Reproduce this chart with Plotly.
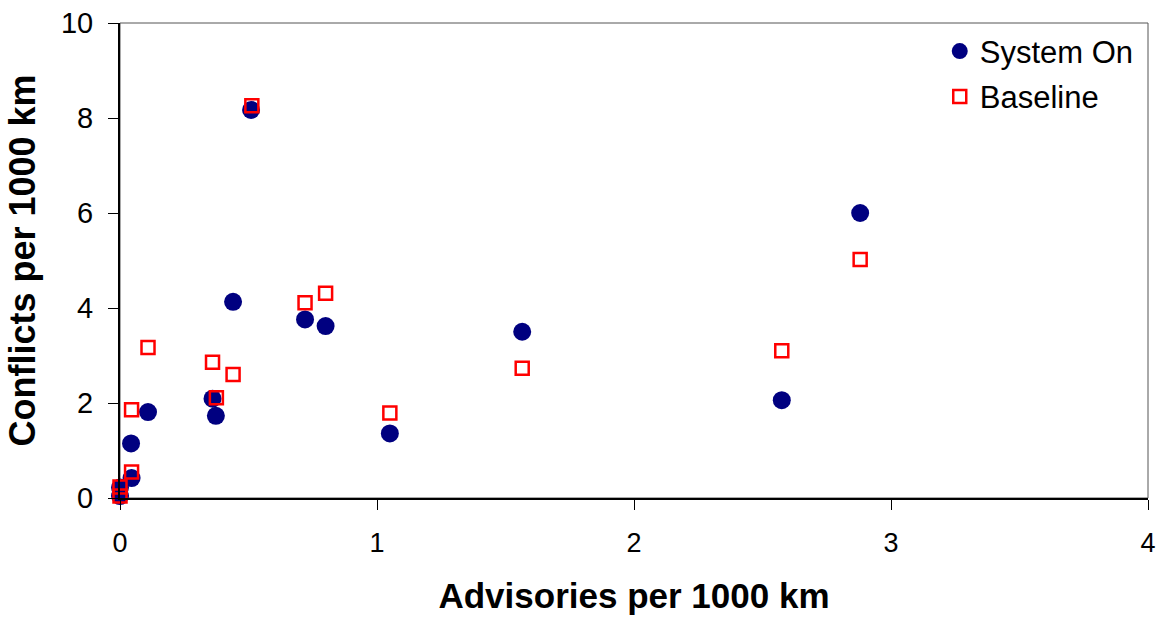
import plotly.graph_objects as go

# System On (navy filled circles)
sys_x = [0.51, 2.88, 0.44, 0.72, 0.80, 1.565, 2.575, 1.05, 0.36, 0.373, 0.109, 0.043, 0.045, 0.0, 0.0]
sys_y = [8.17, 6.00, 4.13, 3.76, 3.62, 3.50, 2.06, 1.36, 2.09, 1.73, 1.81, 1.15, 0.42, 0.22, 0.04]

# Baseline (red open squares)
base_x = [0.513, 2.88, 0.80, 0.72, 0.109, 0.36, 0.44, 1.565, 2.575, 1.05, 0.375, 0.045, 0.045, 0.0, 0.0]
base_y = [8.26, 5.02, 4.31, 4.11, 3.17, 2.86, 2.60, 2.73, 3.10, 1.79, 2.11, 1.86, 0.55, 0.23, 0.04]

x_ticks = [0, 1, 2, 3, 4]
y_ticks = [0, 2, 4, 6, 8, 10]

fig = go.Figure()
fig.add_trace(go.Scatter(
    x=sys_x, y=sys_y, mode="markers", name="System On", legendgroup="a",
    cliponaxis=False,
    marker=dict(symbol="circle", size=18, color="#000080", line=dict(width=0)),
))
fig.add_trace(go.Scatter(
    x=base_x, y=base_y, mode="markers", name="Baseline", legendgroup="b",
    cliponaxis=False,
    marker=dict(symbol="square-open", size=13, color="#ff0000", line=dict(width=2.5, color="#ff0000")),
))

font_family = "Liberation Sans, Arial, sans-serif"

fig.update_layout(
    width=1159, height=617,
    margin=dict(l=120, r=11, t=23, b=119),
    paper_bgcolor="white", plot_bgcolor="white",
    font=dict(family=font_family, color="black", size=28),
    showlegend=True,
    legend=dict(
        x=0.991, y=0.997, xanchor="right", yanchor="top",
        font=dict(size=31, family=font_family, color="black"),
        bgcolor="rgba(0,0,0,0)", borderwidth=0,
        itemwidth=30, tracegroupgap=2,
    ),
    xaxis=dict(
        range=[0, 4], tickvals=x_ticks, ticktext=[str(v) for v in x_ticks],
        showgrid=False, zeroline=False, automargin=False,
        showline=True, linecolor="black", linewidth=2,
        ticks="outside", ticklen=10, tickwidth=1, tickcolor="black",
        tickfont=dict(size=27, family=font_family),
        ticklabelstandoff=10,
        title=dict(text="<b>Advisories per 1000 km</b>", font=dict(size=35, family=font_family), standoff=26),
    ),
    yaxis=dict(
        range=[0, 10], tickvals=y_ticks, ticktext=[str(v) for v in y_ticks],
        showgrid=False, zeroline=False, automargin=False,
        showline=True, linecolor="black", linewidth=2,
        ticks="outside", ticklen=10, tickwidth=1, tickcolor="black",
        tickfont=dict(size=29, family=font_family),
        ticklabelstandoff=9,
        title=dict(text="<b>Conflicts per 1000 km</b>", font=dict(size=36, family=font_family), standoff=14),
    ),
    shapes=[dict(type="rect", xref="paper", yref="paper", x0=0, y0=0, x1=1, y1=1,
                 line=dict(color="#555555", width=1), layer="below")],
)

fig.write_html("out.html")
